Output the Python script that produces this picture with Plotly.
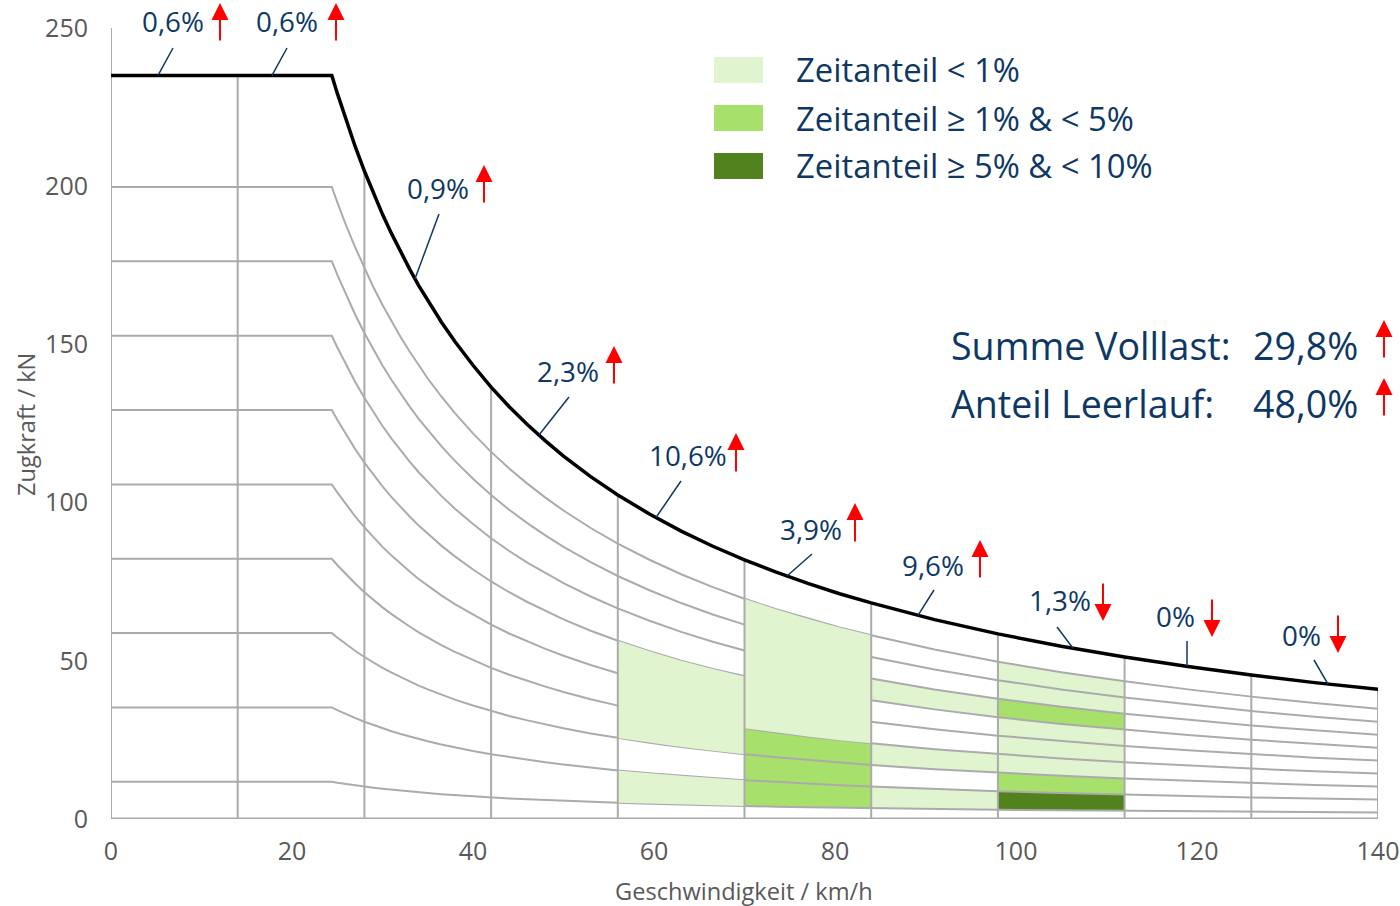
import numpy as np
import plotly.graph_objects as go

# ---------------- data ----------------
# traction envelope (max. Zugkraft)
speed_env = [0, 24.4, 25, 26, 27, 28, 29, 30, 31, 32, 33, 34, 35, 36.5, 38, 40, 42, 44, 46, 48, 50, 53, 56,
             59.5, 63, 66.5, 70, 73.5, 77, 80.5, 84, 91, 98, 105, 112, 119, 126, 133, 140]
force_env = [235, 235, 229.4, 220.5, 212.4, 204.8, 197.7, 191.1, 185.0, 179.2, 173.8, 168.6, 163.8, 157.1,
             150.9, 143.4, 136.5, 130.3, 124.7, 119.5, 114.7, 108.2, 102.4, 96.4, 91.0, 86.2, 81.9, 78.0,
             74.5, 71.2, 68.3, 63.0, 58.5, 54.6, 51.2, 48.2, 45.5, 43.1, 41.0]

# part-load curves (fraction of the envelope)
load_levels = [0.05, 0.15, 0.25, 0.35, 0.45, 0.55, 0.65, 0.75, 0.85]
band_edges = [0.0, 0.05, 0.15, 0.25, 0.35, 0.45, 0.55, 0.65, 0.75, 0.85, 1.0]

# speed columns
speed_edges = [0, 14, 28, 42, 56, 70, 84, 98, 112, 126, 140]

# time-share class per speed column (bands bottom -> top)
# 0 = none, 1 = < 1 %, 2 = 1..5 %, 3 = 5..10 %
cell_class = [
    [0, 0, 0, 0, 0, 0, 0, 0, 0, 0],
    [0, 0, 0, 0, 0, 0, 0, 0, 0, 0],
    [0, 0, 0, 0, 0, 0, 0, 0, 0, 0],
    [0, 0, 0, 0, 0, 0, 0, 0, 0, 0],
    [0, 1, 0, 1, 1, 1, 0, 0, 0, 0],
    [0, 2, 2, 2, 1, 1, 1, 1, 1, 0],
    [0, 1, 0, 1, 0, 0, 1, 0, 0, 0],
    [0, 3, 2, 1, 1, 1, 2, 1, 1, 0],
    [0, 0, 0, 0, 0, 0, 0, 0, 0, 0],
    [0, 0, 0, 0, 0, 0, 0, 0, 0, 0],
]

# full-load time share per speed column and trend
full_load_share = ["0,6%", "0,6%", "0,9%", "2,3%", "10,6%", "3,9%", "9,6%", "1,3%", "0%", "0%"]
full_load_trend = ["up", "up", "up", "up", "up", "up", "up", "down", "down", "down"]

legend_labels = ["Zeitanteil < 1%", "Zeitanteil ≥ 1% & < 5%", "Zeitanteil ≥ 5% & < 10%"]
summary_labels = ["Summe Volllast:", "Anteil Leerlauf:"]
summary_values = ["29,8%", "48,0%"]
summary_trend = ["up", "up"]

x_ticks = [0, 20, 40, 60, 80, 100, 120, 140]
y_ticks = [0, 50, 100, 150, 200, 250]

# ---------------- styles ----------------
FONT = "Open Sans"
NAVY = "#0E3864"
GRAY_TXT = "#595959"
GRID = "#ABABAB"
RED = "#FF0000"
CLASS_COLORS = {1: "#DFF4CF", 2: "#A7E06B", 3: "#52821E"}

# plot area in pixels
L, R, T, B = 111, 1378, 28, 819
W, H = R - L, B - T


def pxx(p):
    return (p - L) / W


def pxy(p):
    return (B - p) / H


env_v = np.array(speed_env, dtype=float)
env_f = np.array(force_env, dtype=float)


def env_at(v):
    return float(np.interp(v, env_v, env_f))


fig = go.Figure()


def region_polygon(c, b0, b1):
    v0, v1 = speed_edges[c], speed_edges[c + 1]
    vs = sorted(set([v0, v1] + [v for v in speed_env if v0 < v < v1]))
    lo = [band_edges[b0] * env_at(v) for v in vs]
    hi = [band_edges[b1] * env_at(v) for v in vs]
    xs = vs + vs[::-1] + [vs[0]]
    ys = lo + hi[::-1] + [lo[0]]
    return xs, ys


def on_top(c, k):
    return c == 4 or (c == 5 and k == 1)


def add_regions(top_layer):
    for c, col in enumerate(cell_class):
        b = 0
        while b < len(col):
            k = col[b]
            if k == 0 or on_top(c, k) != top_layer:
                b += 1
                continue
            e = b
            if top_layer:
                while e + 1 < len(col) and col[e + 1] == k:
                    e += 1
            xs, ys = region_polygon(c, b, e + 1)
            fig.add_trace(go.Scatter(x=xs, y=ys, mode="lines", fill="toself",
                                     fillcolor=CLASS_COLORS[k],
                                     line=dict(width=0, color="rgba(0,0,0,0)"),
                                     hoverinfo="skip", showlegend=False))
            b = e + 1


# fills below the grid curves
add_regions(False)

# part-load curves
for lv in load_levels:
    fig.add_trace(go.Scatter(x=speed_env, y=[lv * f for f in force_env], mode="lines",
                             line=dict(color=GRID, width=2), hoverinfo="skip", showlegend=False))

# fills above the grid curves
add_regions(True)

# vertical grid lines up to the envelope
for v in speed_edges[1:]:
    fig.add_trace(go.Scatter(x=[v, v], y=[0, env_at(v)], mode="lines",
                             line=dict(color=GRID, width=2), hoverinfo="skip", showlegend=False))
# axes lines
fig.add_trace(go.Scatter(x=[0, 0], y=[0, 250], mode="lines", line=dict(color=GRID, width=2),
                         hoverinfo="skip", showlegend=False))
fig.add_trace(go.Scatter(x=[0, 140], y=[0, 0], mode="lines", line=dict(color=GRID, width=3),
                         hoverinfo="skip", showlegend=False))

# envelope
fig.add_trace(go.Scatter(x=speed_env, y=force_env, mode="lines", line=dict(color="black", width=3.5),
                         hoverinfo="skip", showlegend=False))

annotations = []
shapes = []

# column labels (pixel layout)
label_xy = [(173, 21), (287, 21), (438, 188), (568, 371), (688, 455), (811, 529), (933, 565), (1060, 600),
            (1175, 616), (1301, 635)]
leader_bottom_x = [158, 272, 415, 539, 656, 787, 918, 1073, 1187, 1328]
leader_top = [(173, 48), (287, 48), (439, 214), (569, 397), (681, 481), (812, 554), (934, 590), (1057, 627),
              (1187, 641), (1314, 660)]
arrow_x = [220, 336, 484, 614, 736, 855, 980, 1103, 1212, 1338]
arrow_up_span = [(42, 3), (42, 3), (204, 165), (385, 346), (473, 433), (543, 503), (579, 540)]
arrow_down_span = [(582, 621), (598, 637), (614, 653)]


def add_arrow(xp, tail, head):
    annotations.append(dict(xref="paper", yref="paper", x=pxx(xp), y=pxy(head), ax=0, ay=tail - head,
                            text="", showarrow=True, arrowhead=2, arrowsize=1.7, arrowwidth=2,
                            arrowcolor=RED))


for i, txt in enumerate(full_load_share):
    cx, cy = label_xy[i]
    annotations.append(dict(xref="paper", yref="paper", x=pxx(cx), y=pxy(cy), text=txt, showarrow=False,
                            xanchor="center", yanchor="middle", font=dict(family=FONT, size=27.8, color=NAVY)))
    vb = (leader_bottom_x[i] - L) / W * 140
    yb = env_at(vb) / 250
    shapes.append(dict(type="line", xref="paper", yref="paper", x0=vb / 140, y0=yb,
                       x1=pxx(leader_top[i][0]), y1=pxy(leader_top[i][1]),
                       line=dict(color=NAVY, width=1.5)))
    if full_load_trend[i] == "up":
        tail, head = arrow_up_span[i]
    else:
        tail, head = arrow_down_span[i - 7]
    add_arrow(arrow_x[i], tail, head)

# legend
leg_y = [70, 118, 166]
for i, lab in enumerate(legend_labels):
    shapes.append(dict(type="rect", xref="paper", yref="paper", x0=pxx(714), x1=pxx(763),
                       y0=pxy(leg_y[i] + 13), y1=pxy(leg_y[i] - 13),
                       fillcolor=CLASS_COLORS[i + 1], line=dict(width=0)))
    annotations.append(dict(xref="paper", yref="paper", x=pxx(794), y=pxy(leg_y[i]), text=lab,
                            showarrow=False, xanchor="left", yanchor="middle",
                            font=dict(family=FONT, size=32.8, color=NAVY)))

# summary
sum_y = [345, 403]
for i in range(2):
    annotations.append(dict(xref="paper", yref="paper", x=pxx(949), y=pxy(sum_y[i]), text=summary_labels[i],
                            showarrow=False, xanchor="left", yanchor="middle",
                            font=dict(family=FONT, size=37.6, color=NAVY)))
    annotations.append(dict(xref="paper", yref="paper", x=pxx(1360), y=pxy(sum_y[i]), text=summary_values[i],
                            showarrow=False, xanchor="right", yanchor="middle",
                            font=dict(family=FONT, size=37.6, color=NAVY)))
    add_arrow(1384, sum_y[i] + 14, sum_y[i] - 25)

# axis titles
annotations.append(dict(xref="paper", yref="paper", x=pxx(744), y=pxy(891), text="Geschwindigkeit / km/h",
                        showarrow=False, xanchor="center", yanchor="middle",
                        font=dict(family=FONT, size=23.6, color=GRAY_TXT)))
annotations.append(dict(xref="paper", yref="paper", x=pxx(26), y=pxy(425), text="Zugkraft / kN",
                        showarrow=False, xanchor="center", yanchor="middle", textangle=-90,
                        font=dict(family=FONT, size=23.6, color=GRAY_TXT)))

fig.update_layout(
    width=1400, height=906,
    margin=dict(l=L, r=1400 - R, t=T, b=906 - B, pad=0),
    paper_bgcolor="white", plot_bgcolor="white",
    showlegend=False,
    font=dict(family=FONT, color=GRAY_TXT),
    annotations=annotations,
    shapes=shapes,
    xaxis=dict(range=[0, 140], tickvals=x_ticks, showgrid=False, zeroline=False, showline=False,
               ticks="", tickfont=dict(family=FONT, size=25, color=GRAY_TXT), ticklabelstandoff=15,
               fixedrange=True, automargin=False),
    yaxis=dict(range=[0, 250], tickvals=y_ticks, showgrid=False, zeroline=False, showline=False,
               ticks="", tickfont=dict(family=FONT, size=25, color=GRAY_TXT), ticklabelstandoff=22,
               fixedrange=True, automargin=False),
)

fig.write_html("out.html", config={"displayModeBar": False},
               post_script="document.body.style.margin='0';")
